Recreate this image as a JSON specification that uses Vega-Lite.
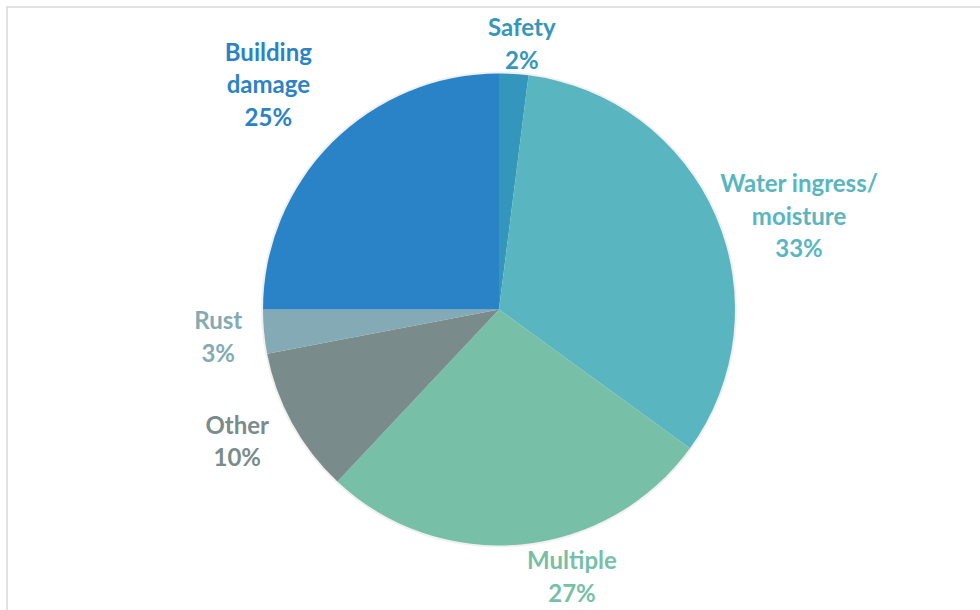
{
  "$schema": "https://vega.github.io/schema/vega-lite/v6.json",
  "width": 984,
  "height": 605,
  "autosize": {"type": "none"},
  "padding": {"left": 7, "top": 7, "right": 0, "bottom": 0},
  "background": "white",
  "view": {"stroke": "#d9d9d9", "strokeWidth": 1.5},
  "data": {
    "values": [
      {"i": 1, "cat": "Safety", "value": 2, "label": ["Safety", "2%"]},
      {"i": 2, "cat": "Water ingress/ moisture", "value": 33, "label": ["Water ingress/", "moisture", "33%"]},
      {"i": 3, "cat": "Multiple", "value": 27, "label": ["Multiple", "27%"]},
      {"i": 4, "cat": "Other", "value": 10, "label": ["Other", "10%"]},
      {"i": 5, "cat": "Rust", "value": 3, "label": ["Rust", "3%"]},
      {"i": 6, "cat": "Building damage", "value": 25, "label": ["Building", "damage", "25%"]}
    ]
  },
  "encoding": {
    "theta": {"field": "value", "type": "quantitative", "stack": true},
    "order": {"field": "i", "type": "quantitative"},
    "color": {
      "field": "cat",
      "type": "nominal",
      "legend": null,
      "scale": {
        "domain": ["Safety", "Water ingress/ moisture", "Multiple", "Other", "Rust", "Building damage"],
        "range": ["#3596BD", "#59B6C0", "#77BFA7", "#7A8B8C", "#84AAB5", "#2A83C6"]
      }
    }
  },
  "layer": [
    {"mark": {"type": "arc", "outerRadius": 238, "opacity": 0.06}, "encoding": {"color": {"value": "#000000"}}},
    {"mark": {"type": "arc", "outerRadius": 236}},
    {
      "mark": {"type": "text", "radius": 267, "dx": 6, "dy": -14, "font": "Lato", "fontWeight": "bold", "fontSize": 24, "lineHeight": 32.5, "baseline": "middle", "align": "center"},
      "encoding": {"text": {"condition": {"test": "datum.cat === 'Safety'", "field": "label"}, "value": ""}}
    },
    {
      "mark": {"type": "text", "radius": 316, "dx": 10, "dy": 1, "font": "Lato", "fontWeight": "bold", "fontSize": 24, "lineHeight": 32.5, "baseline": "middle", "align": "center"},
      "encoding": {"text": {"condition": {"test": "datum.cat === 'Water ingress/ moisture'", "field": "label"}, "value": ""}}
    },
    {
      "mark": {"type": "text", "radius": 276, "dx": 47, "dy": -22, "font": "Lato", "fontWeight": "bold", "fontSize": 24, "lineHeight": 32.5, "baseline": "middle", "align": "center"},
      "encoding": {"text": {"condition": {"test": "datum.cat === 'Multiple'", "field": "label"}, "value": ""}}
    },
    {
      "mark": {"type": "text", "radius": 293, "dx": -5, "dy": -24, "font": "Lato", "fontWeight": "bold", "fontSize": 24, "lineHeight": 32.5, "baseline": "middle", "align": "center"},
      "encoding": {"text": {"condition": {"test": "datum.cat === 'Other'", "field": "label"}, "value": ""}}
    },
    {
      "mark": {"type": "text", "radius": 282, "dy": -14, "font": "Lato", "fontWeight": "bold", "fontSize": 24, "lineHeight": 32.5, "baseline": "middle", "align": "center"},
      "encoding": {"text": {"condition": {"test": "datum.cat === 'Rust'", "field": "label"}, "value": ""}}
    },
    {
      "mark": {"type": "text", "radius": 322, "dx": -3, "dy": -28, "font": "Lato", "fontWeight": "bold", "fontSize": 24, "lineHeight": 32.5, "baseline": "middle", "align": "center"},
      "encoding": {"text": {"condition": {"test": "datum.cat === 'Building damage'", "field": "label"}, "value": ""}}
    }
  ]
}
